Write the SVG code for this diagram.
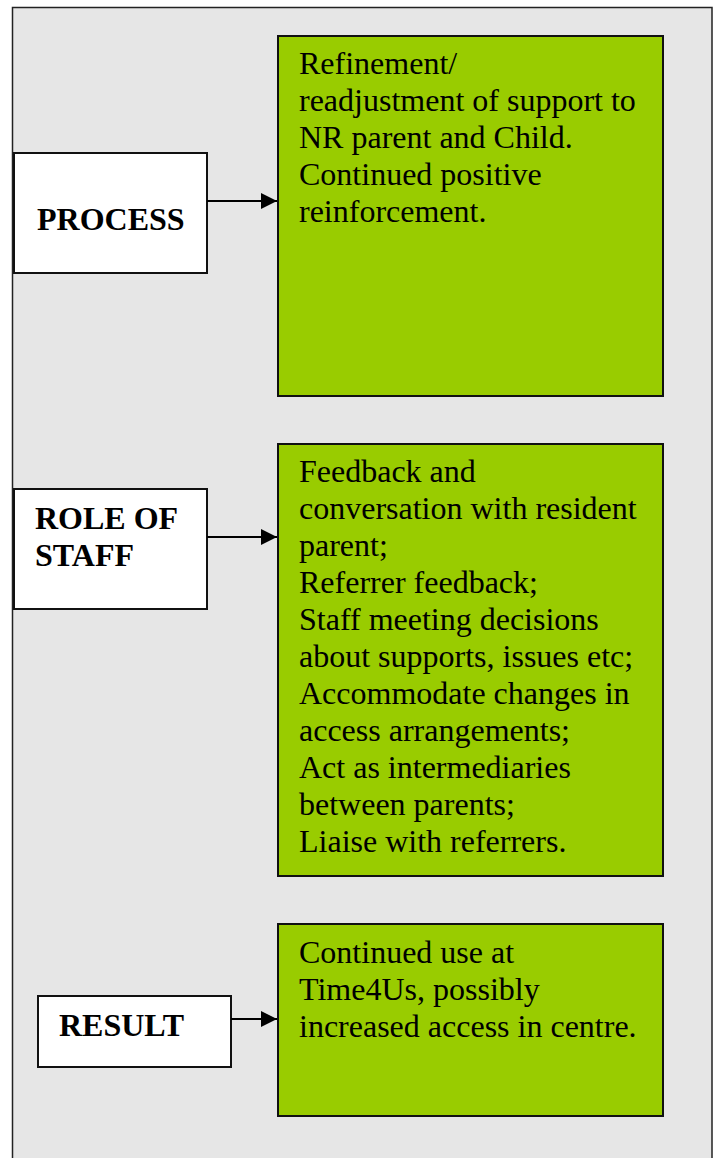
<svg xmlns="http://www.w3.org/2000/svg" width="714" height="1158" viewBox="0 0 714 1158">
<style>
.frame{fill:#e6e6e6;stroke:#222;stroke-width:1.5}
.lbl{fill:#fff;stroke:#111;stroke-width:2}
.box{fill:#99cc00;stroke:#111;stroke-width:2}
.h{font-family:"Liberation Serif","Times New Roman",serif;font-weight:bold;font-size:32px;fill:#000}
.t{font-family:"Liberation Serif","Times New Roman",serif;font-size:32px;fill:#000}
.c{stroke:#000;stroke-width:2;fill:none}
</style>
<defs>
<marker id="ah" markerUnits="userSpaceOnUse" markerWidth="16" markerHeight="16" refX="16" refY="8" orient="auto">
<path d="M0,0 L16,8 L0,16 Z" fill="#000"/>
</marker>
</defs>
<rect class="frame" x="12.5" y="7.5" width="699.5" height="1160"/>
<g id="process">
<rect class="lbl" x="14" y="153" width="193" height="120"/>
<text class="h" x="37" y="230">PROCESS</text>
</g>
<g id="process-detail">
<rect class="box" x="278" y="36" width="385" height="360"/>
<text class="t" x="299" y="74">Refinement/</text>
<text class="t" x="299" y="111">readjustment of support to</text>
<text class="t" x="299" y="148">NR parent and Child.</text>
<text class="t" x="299" y="185">Continued positive</text>
<text class="t" x="299" y="222">reinforcement.</text>
</g>
<g id="role">
<rect class="lbl" x="14" y="489" width="193" height="120"/>
<text class="h" x="35" y="529">ROLE OF</text>
<text class="h" x="35" y="566">STAFF</text>
</g>
<g id="role-detail">
<rect class="box" x="278" y="444" width="385" height="432"/>
<text class="t" x="299" y="482">Feedback and</text>
<text class="t" x="299" y="519">conversation with resident</text>
<text class="t" x="299" y="556">parent;</text>
<text class="t" x="299" y="593">Referrer feedback;</text>
<text class="t" x="299" y="630">Staff meeting decisions</text>
<text class="t" x="299" y="667">about supports, issues etc;</text>
<text class="t" x="299" y="704">Accommodate changes in</text>
<text class="t" x="299" y="741">access arrangements;</text>
<text class="t" x="299" y="778">Act as intermediaries</text>
<text class="t" x="299" y="815">between parents;</text>
<text class="t" x="299" y="852">Liaise with referrers.</text>
</g>
<g id="result">
<rect class="lbl" x="38" y="996" width="193" height="71"/>
<text class="h" x="59" y="1036">RESULT</text>
</g>
<g id="result-detail">
<rect class="box" x="278" y="924" width="385" height="192"/>
<text class="t" x="299" y="963">Continued use at</text>
<text class="t" x="299" y="1000">Time4Us, possibly</text>
<text class="t" x="299" y="1037">increased access in centre.</text>
</g>
<g id="connectors">
<line class="c" x1="207" y1="201" x2="277" y2="201" marker-end="url(#ah)"/>
<line class="c" x1="207" y1="537" x2="277" y2="537" marker-end="url(#ah)"/>
<line class="c" x1="231" y1="1019" x2="277" y2="1019" marker-end="url(#ah)"/>
</g>
</svg>
